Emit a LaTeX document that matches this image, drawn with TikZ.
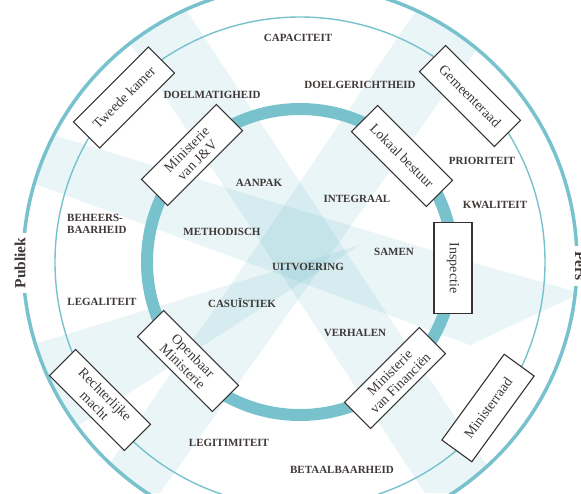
\documentclass[tikz,border=0pt]{standalone}
\usepackage{fontspec}
\setmainfont{Liberation Serif}
\definecolor{ring}{RGB}{120,194,206}
\definecolor{beam}{RGB}{90,178,195}
\definecolor{txt}{RGB}{62,56,54}
\definecolor{boxline}{RGB}{55,50,50}
\begin{document}
\begin{tikzpicture}[x=1pt,y=-1pt,
  lab/.style={font=\fontsize{11}{12}\selectfont\bfseries, text=txt, align=center, inner sep=1pt},
  actor/.style={draw=boxline, line width=1.1pt, fill=white, font=\fontsize{14}{15}\selectfont, text=txt, minimum width=106pt, minimum height=37pt, inner sep=1pt, align=center},
  side/.style={font=\fontsize{15.5}{16}\selectfont\bfseries, text=txt, fill=white, inner sep=5pt},
  beamfill/.style={fill=beam, fill opacity=0.13}]
\useasboundingbox (0,0) rectangle (581,493);
\clip (0,0) rectangle (581,493);
\fill[white] (0,0) rectangle (581,493);
\coordinate (c) at (300,262);
% beams
\begin{scope}
  \clip (c) circle[radius=277pt];
  \fill[beamfill] (120,28) -- (185,8) -- (505,493) -- (425,493) -- cycle;
  \fill[beamfill] (415,12) -- (485,38) -- (160,493) -- (90,493) -- cycle;
  \fill[beamfill] (30,128) -- (470,262) -- (581,293) -- (470,345) -- (30,182) -- cycle;
  \fill[beamfill] (15,350) -- (360,245) -- (40,450) -- cycle;
\end{scope}
% rings
\draw[ring, line width=3.5pt] (c) circle[radius=277pt];
\draw[ring, line width=1.4pt] (c) circle[radius=245pt];
\draw[ring, line width=12pt] (c) circle[radius=153pt];
% side labels
\node[side, rotate=90] (publiek) at (20,263) {Publiek};
\node[side, rotate=-90] (pers) at (580,266) {Pers};
% value labels
\node[lab] (capaciteit) at (298,38) {CAPACITEIT};
\node[lab] (doelgericht) at (360,85) {DOELGERICHTHEID};
\node[lab] (doelmatig) at (212,95) {DOELMATIGHEID};
\node[lab] (aanpak) at (259,183) {AANPAK};
\node[lab, align=left, anchor=west] (beheers) at (66,224) {BEHEERS-\\BAARHEID};
\node[lab] (methodisch) at (222,232) {METHODISCH};
\node[lab] (legaliteit) at (102,302) {LEGALITEIT};
\node[lab] (casuistiek) at (242,303) {CASUÏSTIEK};
\node[lab] (uitvoering) at (308,267) {UITVOERING};
\node[lab] (integraal) at (357,199) {INTEGRAAL};
\node[lab] (samen) at (394,252) {SAMEN};
\node[lab] (verhalen) at (355,333) {VERHALEN};
\node[lab] (prioriteit) at (482,161) {PRIORITEIT};
\node[lab] (kwaliteit) at (495,205) {KWALITEIT};
\node[lab] (legitimiteit) at (229,443) {LEGITIMITEIT};
\node[lab] (betaal) at (342,470) {BETAALBAARHEID};
% actors
\node[actor, rotate=45] (tk) at (124,97.5) {Tweede kamer};
\node[actor, rotate=45] (jv) at (192,155) {Ministerie\\van J\&V};
\node[actor, rotate=-45] (lb) at (402,156) {Lokaal bestuur};
\node[actor, rotate=-45] (gr) at (470,96) {Gemeenteraad};
\node[actor, rotate=-90, minimum width=91pt, minimum height=38pt] (insp) at (453,268) {Inspectie};
\node[actor, rotate=-45] (om) at (188,361) {Openbaar\\Ministerie};
\node[actor, rotate=-45] (rm) at (100,400) {Rechterlijke\\macht};
\node[actor, rotate=45] (mf) at (395,378) {Ministerie\\van Financiën};
\node[actor, rotate=54] (mr) at (488,408) {Ministerraad};
\end{tikzpicture}
\end{document}
